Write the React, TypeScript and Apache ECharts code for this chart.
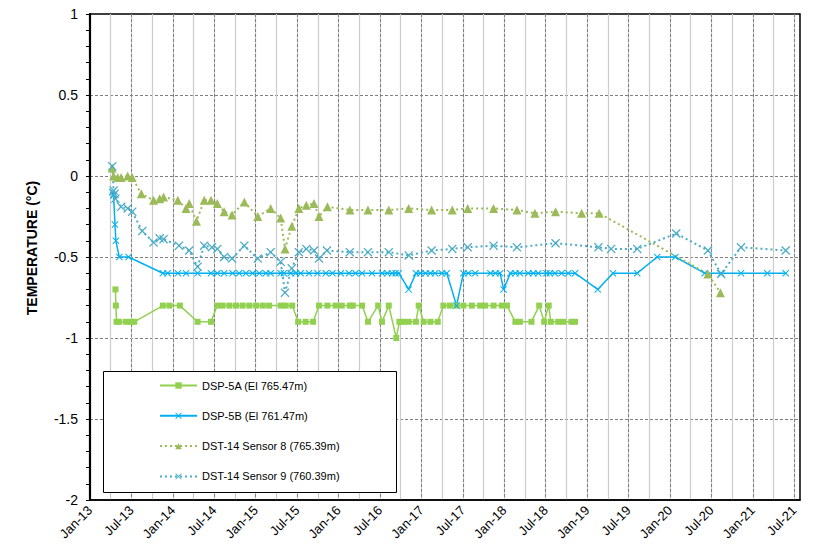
import React, { useEffect, useRef } from "react";
import * as echarts from "echarts";

// ---------- data ----------
const seriesNames = [
  "DSP-5A (El 765.47m)",
  "DSP-5B (El 761.47m)",
  "DST-14 Sensor 8 (765.39m)",
  "DST-14 Sensor 9 (760.39m)",
];

const dsp5aDates = [
  "2013-04-23", "2013-04-25", "2013-04-28", "2013-05-10", "2013-06-09", "2013-07-01", "2013-07-15",
  "2013-11-18", "2013-12-17", "2014-02-01", "2014-04-20", "2014-06-18", "2014-07-16", "2014-08-08",
  "2014-09-07", "2014-10-06", "2014-11-04", "2014-12-04", "2015-01-03", "2015-02-01", "2015-03-01",
  "2015-04-21", "2015-05-13", "2015-06-11", "2015-07-07", "2015-08-09", "2015-09-11", "2015-10-07",
  "2015-11-13", "2015-12-19", "2016-01-15", "2016-02-20", "2016-03-04", "2016-04-14", "2016-05-10",
  "2016-06-24", "2016-07-11", "2016-08-10", "2016-09-12", "2016-09-26", "2016-10-15", "2016-11-06",
  "2016-12-08", "2016-12-20", "2017-01-11", "2017-02-10", "2017-03-14", "2017-04-08", "2017-05-07",
  "2017-06-05", "2017-07-05", "2017-08-11", "2017-09-17", "2017-10-09", "2017-11-15", "2017-12-21",
  "2018-01-13", "2018-02-19", "2018-03-11", "2018-05-01", "2018-06-04", "2018-06-26", "2018-07-16",
  "2018-07-25", "2018-08-27", "2018-09-18", "2018-10-24", "2018-11-09",
];
const dsp5aValues = [
  -0.7, -0.8, -0.9, -0.9, -0.9, -0.9, -0.9,
  -0.8, -0.8, -0.8, -0.9, -0.9, -0.8, -0.8,
  -0.8, -0.8, -0.8, -0.8, -0.8, -0.8, -0.8,
  -0.8, -0.8, -0.8, -0.9, -0.9, -0.9, -0.8,
  -0.8, -0.8, -0.8, -0.8, -0.8, -0.8, -0.9,
  -0.8, -0.9, -0.8, -1.0, -0.9, -0.9, -0.9,
  -0.9, -0.8, -0.9, -0.9, -0.9, -0.8, -0.8,
  -0.8, -0.8, -0.8, -0.8, -0.8, -0.8, -0.8,
  -0.8, -0.9, -0.9, -0.9, -0.8, -0.9, -0.8,
  -0.9, -0.9, -0.9, -0.9, -0.9,
];

const dsp5bDates = [
  "2013-04-09", "2013-04-15", "2013-04-21", "2013-04-25", "2013-05-10", "2013-06-20", "2013-11-18",
  "2013-12-09", "2014-01-23", "2014-02-28", "2014-04-20", "2014-06-18", "2014-07-16", "2014-08-15",
  "2014-09-21", "2014-10-20", "2014-11-19", "2014-12-18", "2015-01-17", "2015-02-15", "2015-03-08",
  "2015-04-21", "2015-05-05", "2015-06-04", "2015-06-26", "2015-07-18", "2015-08-24", "2015-09-30",
  "2015-11-06", "2015-12-05", "2016-01-11", "2016-02-16", "2016-03-16", "2016-04-14", "2016-05-28",
  "2016-07-11", "2016-08-03", "2016-08-25", "2016-09-09", "2016-09-23", "2016-11-06", "2016-12-08",
  "2016-12-28", "2017-01-19", "2017-02-10", "2017-03-02", "2017-04-01", "2017-04-23", "2017-06-05",
  "2017-07-05", "2017-07-27", "2017-08-26", "2017-11-01", "2017-11-23", "2017-12-14", "2017-12-29",
  "2018-01-28", "2018-02-19", "2018-03-11", "2018-04-17", "2018-05-09", "2018-05-31", "2018-07-06",
  "2018-07-21", "2018-08-12", "2018-09-11", "2018-10-10", "2018-11-09", "2019-02-17", "2019-04-25",
  "2019-08-10", "2019-11-06", "2020-01-25", "2020-06-02", "2020-08-14", "2020-11-10", "2021-03-06",
  "2021-05-26",
];
const dsp5bValues = [
  -0.1, -0.12, -0.3, -0.4, -0.5, -0.5, -0.6,
  -0.6, -0.6, -0.6, -0.6, -0.6, -0.6, -0.6,
  -0.6, -0.6, -0.6, -0.6, -0.6, -0.6, -0.6,
  -0.6, -0.6, -0.6, -0.6, -0.6, -0.6, -0.6,
  -0.6, -0.6, -0.6, -0.6, -0.6, -0.6, -0.6,
  -0.6, -0.6, -0.6, -0.6, -0.6, -0.7, -0.6,
  -0.6, -0.6, -0.6, -0.6, -0.6, -0.6, -0.8,
  -0.6, -0.6, -0.6, -0.6, -0.6, -0.6, -0.7,
  -0.6, -0.6, -0.6, -0.6, -0.6, -0.6, -0.6,
  -0.6, -0.6, -0.6, -0.6, -0.6, -0.7, -0.6,
  -0.6, -0.5, -0.5, -0.6, -0.6, -0.6, -0.6,
  -0.6,
];

const s8Dates = [
  "2013-04-09", "2013-04-15", "2013-05-03", "2013-05-18", "2013-06-16", "2013-07-06", "2013-08-15",
  "2013-10-08", "2013-11-04", "2013-11-21", "2014-01-23", "2014-02-28", "2014-03-14", "2014-04-15",
  "2014-05-19", "2014-06-18", "2014-07-16", "2014-08-15", "2014-09-19", "2014-11-12", "2015-01-10",
  "2015-03-08", "2015-04-21", "2015-05-10", "2015-06-09", "2015-07-10", "2015-08-12", "2015-09-15",
  "2015-10-07", "2015-11-13", "2016-02-20", "2016-05-10", "2016-08-10", "2016-11-06", "2017-02-15",
  "2017-05-17", "2017-07-24", "2017-11-15", "2018-02-26", "2018-05-16", "2018-08-15", "2018-12-08",
  "2019-02-23", "2020-06-17", "2020-08-11",
];
const s8Values = [
  0.05, 0.0, -0.01, -0.01, 0.0, -0.01, -0.11,
  -0.15, -0.14, -0.13, -0.15, -0.2, -0.17, -0.28,
  -0.15, -0.15, -0.17, -0.22, -0.24, -0.16, -0.25,
  -0.2, -0.26, -0.45, -0.31, -0.2, -0.18, -0.17,
  -0.25, -0.19, -0.21, -0.21, -0.21, -0.2, -0.21,
  -0.21, -0.2, -0.2, -0.21, -0.23, -0.22, -0.23,
  -0.23, -0.605, -0.72,
];

const s9Dates = [
  "2013-04-09", "2013-04-15", "2013-04-19", "2013-04-23", "2013-05-18", "2013-06-16", "2013-07-06",
  "2013-08-19", "2013-10-08", "2013-11-04", "2013-11-21", "2014-01-28", "2014-03-14", "2014-04-20",
  "2014-05-19", "2014-06-22", "2014-07-16", "2014-08-15", "2014-09-19", "2014-11-12", "2015-01-10",
  "2015-03-08", "2015-04-21", "2015-05-10", "2015-06-09", "2015-07-10", "2015-08-12", "2015-09-15",
  "2015-10-07", "2015-11-11", "2016-02-20", "2016-05-10", "2016-08-10", "2016-11-06", "2017-02-15",
  "2017-05-17", "2017-07-24", "2017-11-15", "2018-02-26", "2018-08-15", "2019-02-20", "2019-04-17",
  "2019-08-10", "2020-01-29", "2020-06-17", "2020-08-14", "2020-11-10", "2021-05-26",
];
const s9Values = [
  0.06, -0.09, -0.11, -0.14, -0.19, -0.2, -0.22,
  -0.34, -0.41, -0.385, -0.39, -0.43, -0.46, -0.56,
  -0.43, -0.44, -0.45, -0.5, -0.51, -0.43, -0.51,
  -0.47, -0.53, -0.72, -0.57, -0.47, -0.45, -0.46,
  -0.51, -0.46, -0.47, -0.47, -0.47, -0.49, -0.46,
  -0.45, -0.44, -0.43, -0.44, -0.415, -0.44, -0.45,
  -0.45, -0.355, -0.46, -0.605, -0.44, -0.46,
];

const monthLabels = ["Jan", "Jul"];

// ---------- helpers ----------
const toYear = (s: string): number => {
  const [y, m, d] = s.split("-").map(Number);
  const start = Date.UTC(y, 0, 1);
  const end = Date.UTC(y + 1, 0, 1);
  return y + (Date.UTC(y, m - 1, d) - start) / (end - start);
};
const pairs = (dates: string[], vals: number[]) => dates.map((d, i) => [toYear(d), vals[i]]);

const X_SYMBOL = "path://M0,1L1,0L5,4L9,0L10,1L6,5L10,9L9,10L5,6L1,10L0,9L4,5Z";
const FONT = "'Liberation Sans', Arial, sans-serif";

const X_MIN = 2013;
const X_MAX = 2021.57;

export default function App() {
  const ref = useRef<HTMLDivElement>(null);

  useEffect(() => {
    if (!ref.current) return;
    const chart = echarts.init(ref.current, undefined, { renderer: "svg" });

    const xLabel = (v: number) => {
      const y = Math.floor(v + 1e-6);
      const frac = v - y;
      let idx = -1;
      if (Math.abs(frac) < 1e-3) idx = 0;
      else if (Math.abs(frac - 0.5) < 1e-3) idx = 1;
      if (idx < 0) return "";
      return monthLabels[idx] + "-" + String(y % 100).padStart(2, "0");
    };

    chart.setOption({
      animation: false,
      backgroundColor: "#fff",
      textStyle: { fontFamily: FONT },
      grid: {
        left: 90,
        right: 23,
        top: 14,
        bottom: 48,
        show: true,
        borderColor: "#000",
        borderWidth: 1.5,
        backgroundColor: "transparent",
      },
      xAxis: [
        {
          type: "value",
          min: X_MIN,
          max: X_MAX,
          interval: 0.5,
          z: 2,
          axisLine: { show: true, onZero: false, lineStyle: { color: "#000", width: 1.5 } },
          axisTick: { show: false },
          axisLabel: {
            rotate: 45,
            fontSize: 13,
            color: "#000",
            margin: 8,
            formatter: xLabel,
            showMaxLabel: false,
          },
          splitLine: {
            show: true,
            showMinLine: false,
            showMaxLine: false,
            lineStyle: { color: "#7f7f7f", type: [3, 2], width: 1 },
          },
        },
        {
          type: "value",
          min: X_MIN,
          max: X_MAX,
          interval: 0.25,
          position: "bottom",
          z: 1,
          axisLine: { show: false },
          axisTick: { show: false },
          axisLabel: { show: false },
          splitLine: {
            show: true,
            showMinLine: false,
            showMaxLine: false,
            lineStyle: { color: "#cccccc", width: 1.2 },
          },
        },
      ],
      yAxis: {
        type: "value",
        min: -2,
        max: 1,
        interval: 0.5,
        axisLine: { show: true, onZero: false, lineStyle: { color: "#000", width: 2.2 } },
        axisTick: { show: true, inside: false, length: 4, lineStyle: { color: "#000", width: 1 } },
        minorTick: { show: true, splitNumber: 5, length: 4, lineStyle: { color: "#000", width: 1 } },
        axisLabel: { fontSize: 14, color: "#000", margin: 12 },
        splitLine: {
          show: true,
          showMinLine: false,
          showMaxLine: false,
          lineStyle: { color: "#7f7f7f", type: [3, 2], width: 1 },
        },
      },
      legend: {
        orient: "vertical",
        left: 159,
        top: 380,
        padding: 0,
        itemWidth: 37,
        itemHeight: 8,
        itemGap: 19.3,
        z: 10,
        textStyle: { fontSize: 11, color: "#000", fontFamily: FONT },
        data: seriesNames,
      },
      graphic: [
        {
          type: "rect",
          z: 5,
          shape: { x: 103.5, y: 371.5, width: 293, height: 121 },
          style: { fill: "#fff", stroke: "#000", lineWidth: 1 },
        },
        {
          type: "text",
          x: 31.5,
          y: 248,
          rotation: Math.PI / 2,
          style: {
            text: "TEMPERATURE (°C)",
            fontSize: 14,
            fontWeight: "bold",
            fontFamily: FONT,
            fill: "#000",
            textAlign: "center",
            textVerticalAlign: "middle",
          },
        },
      ],
      series: [
        {
          name: seriesNames[0],
          type: "line",
          data: pairs(dsp5aDates, dsp5aValues),
          symbol: "rect",
          symbolSize: 6,
          color: "#92D050",
          lineStyle: { color: "#92D050", width: 1.5 },
          itemStyle: { color: "#92D050" },
        },
        {
          name: seriesNames[1],
          type: "line",
          data: pairs(dsp5bDates, dsp5bValues),
          symbol: X_SYMBOL,
          symbolSize: 7,
          color: "#00B0F0",
          lineStyle: { color: "#00B0F0", width: 1.5 },
          itemStyle: { color: "#00B0F0" },
        },
        {
          name: seriesNames[2],
          type: "line",
          data: pairs(s8Dates, s8Values),
          symbol: "triangle",
          symbolSize: 9,
          color: "#9BBB59",
          lineStyle: { color: "#9BBB59", width: 2, type: [2, 3] },
          itemStyle: { color: "#9BBB59" },
        },
        {
          name: seriesNames[3],
          type: "line",
          data: pairs(s9Dates, s9Values),
          symbol: X_SYMBOL,
          symbolSize: 9,
          color: "#4BACC6",
          lineStyle: { color: "#4BACC6", width: 2, type: [2, 3] },
          itemStyle: { color: "#4BACC6" },
        },
      ],
    });

    return () => chart.dispose();
  }, []);

  return (
    <div
      ref={ref}
      style={{ position: "fixed", left: 0, top: 0, width: 823, height: 548, background: "#fff" }}
    />
  );
}
